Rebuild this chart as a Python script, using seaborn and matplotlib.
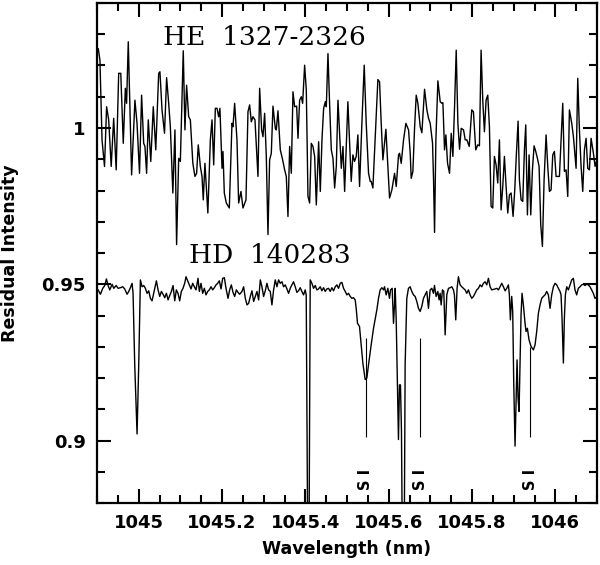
import matplotlib
matplotlib.use("Agg")
import matplotlib.pyplot as plt
from matplotlib.ticker import MultipleLocator, FuncFormatter
import pandas as pd
import seaborn as sns

# HE 1327-2326 spectrum (wavelength nm, residual intensity)
he_points = [
    (1044.900, 1.0240), (1044.903, 1.0254), (1044.907, 1.0217), (1044.912, 0.9962),
    (1044.918, 0.9877), (1044.923, 1.0068), (1044.928, 1.0026), (1044.934, 0.9877),
    (1044.940, 1.0031), (1044.946, 0.9866), (1044.952, 1.0175), (1044.957, 1.0175),
    (1044.963, 0.9951), (1044.968, 1.0127), (1044.971, 1.0079), (1044.975, 1.0276),
    (1044.983, 0.9850), (1044.991, 1.0089), (1044.996, 1.0015), (1045.002, 0.9855),
    (1045.007, 1.0105), (1045.012, 0.9951), (1045.015, 0.9941), (1045.019, 0.9855),
    (1045.023, 1.0026), (1045.029, 0.9893), (1045.035, 1.0068), (1045.041, 0.9930),
    (1045.048, 1.0175), (1045.051, 1.0180), (1045.056, 1.0058), (1045.062, 0.9983),
    (1045.067, 1.0161), (1045.072, 1.0079), (1045.076, 1.0004), (1045.082, 0.9792),
    (1045.087, 0.9994), (1045.091, 0.9627), (1045.096, 0.9903), (1045.100, 0.9893),
    (1045.107, 1.0247), (1045.111, 0.9994), (1045.115, 1.0137), (1045.120, 1.0036),
    (1045.124, 1.0026), (1045.130, 0.9887), (1045.135, 0.9845), (1045.139, 0.9855),
    (1045.143, 0.9946), (1045.148, 0.9877), (1045.152, 0.9845), (1045.155, 0.9770),
    (1045.159, 0.9887), (1045.166, 0.9728), (1045.172, 0.9962), (1045.176, 1.0026),
    (1045.180, 0.9882), (1045.184, 1.0063), (1045.188, 1.0063), (1045.192, 1.0036),
    (1045.195, 1.0063), (1045.200, 0.9871),
    (1045.2023, 0.9925), (1045.2055, 0.9792), (1045.2103, 0.9760), (1045.2175, 0.9744),
    (1045.2239, 1.0015), (1045.2263, 1.0004), (1045.2303, 1.0079), (1045.2359, 0.9962),
    (1045.2399, 0.9760), (1045.2455, 0.9797), (1045.2503, 0.9744), (1045.2575, 0.9770),
    (1045.2623, 1.0052), (1045.2663, 1.0074), (1045.2703, 1.0020), (1045.2743, 1.0036),
    (1045.2791, 1.0026), (1045.2863, 0.9845), (1045.2903, 1.0127), (1045.2951, 0.9994),
    (1045.2983, 0.9972), (1045.3023, 1.0047), (1045.3063, 0.9909), (1045.3103, 0.9659),
    (1045.3143, 0.9898), (1045.3183, 0.9919), (1045.3223, 1.0070), (1045.3279, 0.9999),
    (1045.3303, 0.9994), (1045.3343, 1.0055), (1045.3399, 0.9930), (1045.3447, 0.9903),
    (1045.3503, 0.9866), (1045.3543, 0.9845), (1045.3583, 0.9717), (1045.3623, 0.9941),
    (1045.3663, 0.9855), (1045.3703, 1.0116), (1045.3743, 1.0068), (1045.3791, 1.0070),
    (1045.3823, 0.9967), (1045.3863, 1.0089), (1045.3903, 1.0100), (1045.3935, 1.0079),
    (1045.3983, 1.0201), (1045.4023, 1.0121), (1045.4063, 0.9781), (1045.4103, 0.9760),
    (1045.4143, 0.9951), (1045.4183, 0.9941), (1045.4223, 0.9909), (1045.4263, 0.9754),
    (1045.4319, 0.9956), (1045.4359, 0.9797), (1045.4399, 0.9962), (1045.4439, 1.0063),
    (1045.4479, 1.0084), (1045.4503, 1.0068), (1045.4543, 1.0238), (1045.4583, 1.0074),
    (1045.4623, 0.9930), (1045.4663, 0.9903), (1045.4703, 0.9808), (1045.4743, 0.9877),
    (1045.4783, 1.0089), (1045.4823, 0.9983), (1045.4863, 0.9871), (1045.4903, 0.9941),
    (1045.4943, 0.9797),
    (1045.5021, 1.0084), (1045.5101, 0.9829), (1045.5141, 0.9914), (1045.5181, 0.9893),
    (1045.5221, 0.9909), (1045.5261, 0.9978), (1045.5301, 0.9813), (1045.5357, 1.0015),
    (1045.5413, 1.0201), (1045.5461, 1.0015), (1045.5517, 0.9855), (1045.5557, 0.9829),
    (1045.5581, 0.9829), (1045.5621, 0.9808), (1045.5693, 1.0015), (1045.5741, 1.0155),
    (1045.5781, 1.0148), (1045.5821, 1.0015), (1045.5861, 0.9898), (1045.5933, 0.9996),
    (1045.5981, 0.9877), (1045.6021, 0.9776), (1045.6077, 0.9802), (1045.6141, 0.9855),
    (1045.6181, 0.9813), (1045.6237, 0.9914), (1045.6261, 0.9919), (1045.6301, 0.9887),
    (1045.6357, 0.9962), (1045.6413, 1.0015), (1045.6477, 0.9994), (1045.6517, 0.9919),
    (1045.6541, 0.9839), (1045.6581, 0.9861), (1045.6621, 0.9999), (1045.6661, 1.0105),
    (1045.6701, 1.0079), (1045.6757, 1.0004), (1045.6797, 0.9985), (1045.6861, 1.0124),
    (1045.6917, 1.0058), (1045.6957, 1.0031), (1045.6997, 1.0015), (1045.7053, 0.9951),
    (1045.7077, 0.9834), (1045.7101, 0.9666), (1045.7133, 0.9962), (1045.7181, 1.0151),
    (1045.7237, 1.0084), (1045.7277, 1.0079), (1045.7301, 1.0081), (1045.7341, 0.9930),
    (1045.7373, 0.9978), (1045.7413, 0.9887), (1045.7461, 0.9855), (1045.7501, 0.9983),
    (1045.7541, 0.9909), (1045.7581, 1.0068), (1045.7621, 1.0249), (1045.7661, 1.0015),
    (1045.7701, 0.9932), (1045.7741, 0.9999), (1045.7797, 0.9994), (1045.7837, 0.9962),
    (1045.7877, 0.9962), (1045.7933, 0.9941),
    (1045.7994, 1.0058), (1045.8034, 1.0052), (1045.8090, 0.9930), (1045.8138, 0.9946),
    (1045.8178, 0.9943), (1045.8218, 1.0249), (1045.8258, 1.0089), (1045.8298, 0.9988),
    (1045.8338, 1.0089), (1045.8378, 1.0105), (1045.8418, 1.0004), (1045.8458, 0.9749),
    (1045.8498, 0.9744), (1045.8538, 0.9909), (1045.8578, 0.9882), (1045.8618, 0.9824),
    (1045.8658, 0.9962), (1045.8698, 0.9738), (1045.8738, 0.9813), (1045.8778, 0.9909),
    (1045.8818, 0.9813), (1045.8858, 0.9728), (1045.8898, 0.9786), (1045.8938, 0.9792),
    (1045.8986, 0.9717), (1045.9026, 0.9802), (1045.9066, 0.9919), (1045.9106, 1.0022),
    (1045.9138, 0.9834), (1045.9178, 0.9770), (1045.9218, 0.9765), (1045.9258, 0.9930),
    (1045.9290, 1.0010), (1045.9330, 0.9722), (1045.9370, 0.9914), (1045.9410, 0.9722),
    (1045.9450, 0.9866), (1045.9490, 0.9943), (1045.9530, 0.9925), (1045.9570, 0.9903),
    (1045.9610, 0.9877), (1045.9650, 0.9690), (1045.9690, 0.9621), (1045.9730, 0.9834),
    (1045.9778, 0.9978), (1045.9818, 0.9877), (1045.9858, 0.9797), (1045.9898, 0.9802),
    (1045.9938, 0.9914), (1045.9978, 0.9925), (1046.0018, 0.9845), (1046.0058, 0.9845),
    (1046.0098, 0.9845), (1046.0138, 0.9962), (1046.0178, 1.0079), (1046.0218, 0.9861),
    (1046.0258, 0.9866), (1046.0298, 0.9781), (1046.0338, 1.0058), (1046.0394, 1.0015),
    (1046.0434, 0.9972), (1046.0498, 0.9871), (1046.0538, 1.0159), (1046.0578, 0.9994),
    (1046.0618, 0.9877), (1046.0658, 0.9797), (1046.0698, 0.9930), (1046.0738, 0.9967),
    (1046.0778, 0.9871), (1046.0818, 0.9866), (1046.0858, 0.9967), (1046.0914, 0.9919),
    (1046.0954, 0.9877), (1046.1000, 0.9900),
]

# HD 140283 spectrum
hd_points = [
    (1044.9000, 0.9485), (1044.9026, 0.9482), (1044.9082, 0.9468), (1044.9138, 0.9487),
    (1044.9186, 0.9496), (1044.9226, 0.9517), (1044.9266, 0.9496), (1044.9306, 0.9482),
    (1044.9362, 0.9500), (1044.9402, 0.9487), (1044.9458, 0.9496), (1044.9506, 0.9487),
    (1044.9562, 0.9489), (1044.9618, 0.9492), (1044.9665, 0.9485), (1044.9721, 0.9468),
    (1044.9761, 0.9477), (1044.9801, 0.9489), (1044.9841, 0.9503), (1044.9865, 0.9471),
    (1044.9905, 0.9242), (1044.9961, 0.9021), (1045.0001, 0.9242), (1045.0041, 0.9514),
    (1045.0081, 0.9492), (1045.0121, 0.9496), (1045.0161, 0.9487), (1045.0201, 0.9471),
    (1045.0241, 0.9479), (1045.0281, 0.9455), (1045.0321, 0.9447), (1045.0361, 0.9471),
    (1045.0401, 0.9496), (1045.0425, 0.9511), (1045.0465, 0.9482), (1045.0505, 0.9461),
    (1045.0545, 0.9477), (1045.0585, 0.9468), (1045.0625, 0.9457), (1045.0665, 0.9471),
    (1045.0705, 0.9450), (1045.0745, 0.9464), (1045.0785, 0.9477), (1045.0825, 0.9496),
    (1045.0865, 0.9447), (1045.0904, 0.9482), (1045.0944, 0.9471), (1045.0984, 0.9447),
    (1045.1024, 0.9477), (1045.1064, 0.9487), (1045.1104, 0.9503), (1045.1136, 0.9524),
    (1045.1176, 0.9511), (1045.1216, 0.9498), (1045.1256, 0.9485), (1045.1296, 0.9503),
    (1045.1336, 0.9492), (1045.1376, 0.9482), (1045.1424, 0.9519), (1045.1456, 0.9477),
    (1045.1496, 0.9503), (1045.1536, 0.9471), (1045.1576, 0.9487), (1045.1616, 0.9466),
    (1045.1656, 0.9477), (1045.1696, 0.9482), (1045.1736, 0.9492), (1045.1776, 0.9482),
    (1045.1816, 0.9489), (1045.1856, 0.9498), (1045.1896, 0.9503), (1045.1936, 0.9511),
    (1045.1976, 0.9485), (1045.2016, 0.9519), (1045.2056, 0.9521), (1045.2096, 0.9487),
    (1045.2144, 0.9455), (1045.2184, 0.9482), (1045.2224, 0.9498), (1045.2264, 0.9474),
    (1045.2304, 0.9461), (1045.2344, 0.9482), (1045.2384, 0.9474), (1045.2424, 0.9468),
    (1045.2479, 0.9477), (1045.2519, 0.9492), (1045.2559, 0.9455), (1045.2599, 0.9434),
    (1045.2639, 0.9439), (1045.2679, 0.9461), (1045.2719, 0.9479), (1045.2759, 0.9445),
    (1045.2799, 0.9461), (1045.2839, 0.9477), (1045.2879, 0.9450), (1045.2919, 0.9514),
    (1045.2958, 0.9492), (1045.2998, 0.9461), (1045.3038, 0.9479), (1045.3078, 0.9503),
    (1045.3118, 0.9482), (1045.3158, 0.9477), (1045.3198, 0.9434), (1045.3238, 0.9482),
    (1045.3278, 0.9514), (1045.3318, 0.9492), (1045.3358, 0.9514), (1045.3398, 0.9503),
    (1045.3438, 0.9508), (1045.3478, 0.9492), (1045.3518, 0.9498), (1045.3558, 0.9485),
    (1045.3598, 0.9471), (1045.3637, 0.9487), (1045.3677, 0.9498), (1045.3717, 0.9508),
    (1045.3757, 0.9492), (1045.3797, 0.9474), (1045.3837, 0.9479), (1045.3877, 0.9489),
    (1045.3917, 0.9477), (1045.3957, 0.9466), (1045.3997, 0.9482), (1045.4021, 0.9466),
    (1045.4060, 0.8600), (1045.4086, 0.8600), (1045.4117, 0.9514), (1045.4157, 0.9503),
    (1045.4197, 0.9487), (1045.4237, 0.9496), (1045.4277, 0.9482), (1045.4317, 0.9485),
    (1045.4357, 0.9492), (1045.4397, 0.9479), (1045.4437, 0.9489), (1045.4477, 0.9477),
    (1045.4517, 0.9485), (1045.4557, 0.9487), (1045.4597, 0.9477), (1045.4637, 0.9489),
    (1045.4677, 0.9479), (1045.4717, 0.9492), (1045.4757, 0.9498), (1045.4797, 0.9487),
    (1045.4837, 0.9503), (1045.4877, 0.9506), (1045.4917, 0.9487), (1045.4957, 0.9477),
    (1045.4997, 0.9466), (1045.5037, 0.9471), (1045.5077, 0.9461), (1045.5116, 0.9455),
    (1045.5156, 0.9457), (1045.5196, 0.9450), (1045.5220, 0.9423), (1045.5252, 0.9375),
    (1045.5300, 0.9365), (1045.5340, 0.9306), (1045.5380, 0.9248), (1045.5436, 0.9195),
    (1045.5476, 0.9200), (1045.5516, 0.9242), (1045.5580, 0.9306), (1045.5636, 0.9359),
    (1045.5716, 0.9418), (1045.5756, 0.9455), (1045.5796, 0.9482), (1045.5836, 0.9489),
    (1045.5876, 0.9482), (1045.5900, 0.9492), (1045.5940, 0.9466), (1045.5980, 0.9487),
    (1045.6020, 0.9455), (1045.6044, 0.9482), (1045.6084, 0.9487), (1045.6116, 0.9375),
    (1045.6140, 0.9434), (1045.6156, 0.9487), (1045.6180, 0.9391), (1045.6211, 0.9168),
    (1045.6235, 0.9003), (1045.6259, 0.9178), (1045.6283, 0.9178), (1045.6307, 0.9030),
    (1045.6331, 0.8600), (1045.6371, 0.8600), (1045.6395, 0.9242), (1045.6435, 0.9455),
    (1045.6475, 0.9487), (1045.6515, 0.9492), (1045.6555, 0.9477), (1045.6595, 0.9466),
    (1045.6635, 0.9461), (1045.6675, 0.9445), (1045.6715, 0.9423), (1045.6755, 0.9413),
    (1045.6795, 0.9429), (1045.6835, 0.9455), (1045.6875, 0.9466), (1045.6915, 0.9477),
    (1045.6955, 0.9423), (1045.6995, 0.9482), (1045.7035, 0.9487), (1045.7075, 0.9471),
    (1045.7099, 0.9496), (1045.7139, 0.9461), (1045.7179, 0.9477), (1045.7211, 0.9450),
    (1045.7235, 0.9471), (1045.7259, 0.9434), (1045.7291, 0.9482), (1045.7323, 0.9477),
    (1045.7355, 0.9338), (1045.7395, 0.9466), (1045.7435, 0.9487), (1045.7475, 0.9489),
    (1045.7515, 0.9492), (1045.7555, 0.9482), (1045.7578, 0.9466), (1045.7610, 0.9386),
    (1045.7642, 0.9487), (1045.7674, 0.9524), (1045.7714, 0.9498), (1045.7754, 0.9492),
    (1045.7794, 0.9487), (1045.7834, 0.9482), (1045.7874, 0.9471), (1045.7914, 0.9482),
    (1045.7954, 0.9466), (1045.7994, 0.9455), (1045.8034, 0.9461), (1045.8074, 0.9471),
    (1045.8114, 0.9482), (1045.8154, 0.9487), (1045.8194, 0.9498), (1045.8234, 0.9492),
    (1045.8274, 0.9503), (1045.8314, 0.9508), (1045.8354, 0.9498), (1045.8394, 0.9519),
    (1045.8434, 0.9492), (1045.8474, 0.9482), (1045.8554, 0.9485), (1045.8594, 0.9487),
    (1045.8634, 0.9482), (1045.8674, 0.9492), (1045.8714, 0.9503), (1045.8754, 0.9492),
    (1045.8794, 0.9479), (1045.8834, 0.9487), (1045.8874, 0.9498), (1045.8897, 0.9466),
    (1045.8921, 0.9386), (1045.8953, 0.9461), (1045.8977, 0.9413), (1045.9001, 0.9189),
    (1045.9033, 0.8982), (1045.9057, 0.9115), (1045.9081, 0.9258), (1045.9105, 0.9136),
    (1045.9129, 0.9093), (1045.9153, 0.9242), (1045.9177, 0.9402), (1045.9201, 0.9471),
    (1045.9233, 0.9434), (1045.9273, 0.9375), (1045.9297, 0.9349), (1045.9329, 0.9359),
    (1045.9369, 0.9322), (1045.9417, 0.9301), (1045.9473, 0.9290), (1045.9513, 0.9306),
    (1045.9553, 0.9349), (1045.9593, 0.9407), (1045.9633, 0.9434), (1045.9673, 0.9455),
    (1045.9713, 0.9461), (1045.9753, 0.9466), (1045.9793, 0.9477), (1045.9833, 0.9466),
    (1045.9873, 0.9423), (1045.9913, 0.9466), (1045.9953, 0.9492), (1045.9993, 0.9503),
    (1046.0033, 0.9498), (1046.0073, 0.9487), (1046.0113, 0.9477), (1046.0137, 0.9466),
    (1046.0161, 0.9391), (1046.0193, 0.9248), (1046.0217, 0.9391), (1046.0241, 0.9466),
    (1046.0273, 0.9492), (1046.0313, 0.9482), (1046.0353, 0.9498), (1046.0393, 0.9514),
    (1046.0433, 0.9519), (1046.0472, 0.9482), (1046.0512, 0.9466), (1046.0552, 0.9487),
    (1046.0592, 0.9492), (1046.0632, 0.9498), (1046.0672, 0.9500), (1046.0712, 0.9496),
    (1046.0752, 0.9500), (1046.0792, 0.9498), (1046.0832, 0.9492), (1046.0872, 0.9482),
    (1046.0912, 0.9471), (1046.0952, 0.9455), (1046.1000, 0.9460),
]

# S I line markers
si_wave = [1045.5450, 1045.6755, 1045.9401]
si_top = [0.9328, 0.9328, 0.9300]
si_bottom = [0.9012, 0.9012, 0.9012]
si_label = "S I"
si_label_y = 0.8875

# star names
star_names = ["HE  1327-2326", "HD  140283"]
name_wave = [1045.0585, 1045.1204]
name_flux = [1.0265, 0.9567]

he = pd.DataFrame(he_points, columns=["wave", "flux"])
hd = pd.DataFrame(hd_points, columns=["wave", "flux"])

sns.set_style("ticks")
plt.rcParams["font.family"] = ["DejaVu Sans"]
plt.rcParams["text.color"] = "black"
plt.rcParams["axes.labelcolor"] = "black"
plt.rcParams["xtick.color"] = "black"
plt.rcParams["ytick.color"] = "black"

fig = plt.figure(figsize=(6, 5.65), dpi=100)
ax = fig.add_axes([0.1617, 0.1097, 0.8333, 0.885])

sns.lineplot(data=he, x="wave", y="flux", ax=ax, color="black", lw=1.0,
             estimator=None, sort=False)
sns.lineplot(data=hd, x="wave", y="flux", ax=ax, color="black", lw=1.0,
             estimator=None, sort=False)

# S I identification marks
ax.vlines(si_wave, si_bottom, si_top, color="black", lw=0.8)
for w in si_wave:
    ax.text(w, si_label_y, si_label, rotation=90, ha="center", va="center",
            fontsize=10.5, fontweight="bold", color="black")

for name, w, f in zip(star_names, name_wave, name_flux):
    ax.text(w, f, name, family="DejaVu Serif", fontsize=19, color="black",
            ha="left", va="baseline")

ax.set_xlim(1044.9, 1046.1)
ax.set_ylim(0.88, 1.04)
ax.xaxis.set_major_locator(MultipleLocator(0.2))
ax.xaxis.set_minor_locator(MultipleLocator(0.05))
ax.yaxis.set_major_locator(MultipleLocator(0.05))
ax.yaxis.set_minor_locator(MultipleLocator(0.01))
fmt = FuncFormatter(lambda v, p: "%g" % round(v, 4))
ax.xaxis.set_major_formatter(fmt)
ax.yaxis.set_major_formatter(fmt)

ax.tick_params(which="both", direction="in", top=True, right=True,
               width=1.5, color="black", labelcolor="black")
ax.tick_params(which="major", length=10, pad=8, labelsize=13)
ax.tick_params(which="minor", length=6)
for lab in ax.get_xticklabels() + ax.get_yticklabels():
    lab.set_fontweight("bold")
for s in ax.spines.values():
    s.set_linewidth(1.6)
    s.set_color("black")

ax.set_xlabel("Wavelength (nm)", fontsize=12.5, fontweight="bold", labelpad=6)
ax.set_ylabel("Residual Intensity", fontsize=12.5, fontweight="bold", labelpad=16)

fig.savefig("out.png", dpi=100)
